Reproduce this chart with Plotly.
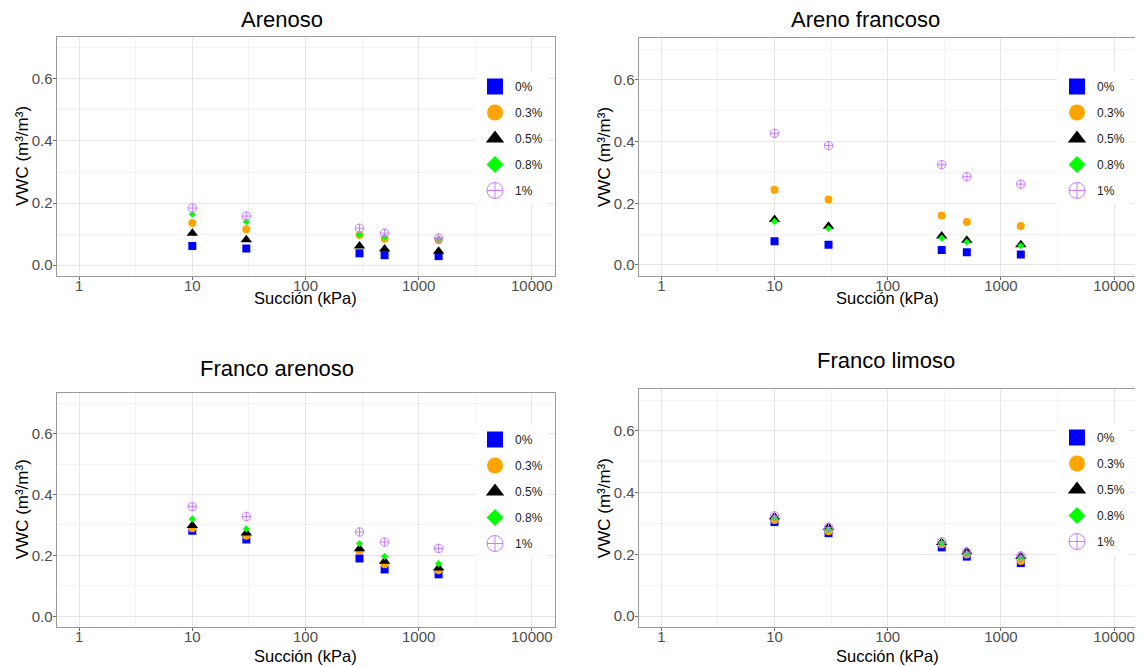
import plotly.graph_objects as go

# ---------------- data ----------------
suction = [10, 30, 300, 500, 1500]
levels = ["0%", "0.3%", "0.5%", "0.8%", "1%"]
titles = ["Arenoso", "Areno francoso", "Franco arenoso", "Franco limoso"]

# rows follow levels order: 0%, 0.3%, 0.5%, 0.8%, 1%
arenoso = [
    [0.062, 0.054, 0.038, 0.032, 0.029],
    [0.136, 0.116, 0.097, 0.085, 0.080],
    [0.103, 0.082, 0.062, 0.052, 0.045],
    [0.164, 0.140, 0.099, 0.090, 0.084],
    [0.184, 0.158, 0.119, 0.103, 0.087],
]
areno_francoso = [
    [0.077, 0.065, 0.048, 0.041, 0.034],
    [0.244, 0.212, 0.160, 0.139, 0.126],
    [0.147, 0.125, 0.094, 0.080, 0.065],
    [0.141, 0.118, 0.087, 0.074, 0.062],
    [0.427, 0.387, 0.325, 0.286, 0.262],
]
franco_arenoso = [
    [0.281, 0.252, 0.190, 0.154, 0.138],
    [0.289, 0.265, 0.216, 0.171, 0.151],
    [0.298, 0.274, 0.222, 0.181, 0.159],
    [0.320, 0.287, 0.239, 0.197, 0.173],
    [0.360, 0.328, 0.277, 0.244, 0.223],
]
franco_limoso = [
    [0.305, 0.269, 0.223, 0.193, 0.172],
    [0.312, 0.275, 0.233, 0.200, 0.179],
    [0.322, 0.288, 0.239, 0.209, 0.193],
    [0.318, 0.281, 0.236, 0.202, 0.188],
    [0.325, 0.288, 0.241, 0.208, 0.195],
]
panels = [arenoso, areno_francoso, franco_arenoso, franco_limoso]

x_tickvals = [1, 10, 100, 1000, 10000]
x_ticktext = ["1", "10", "100", "1000", "10000"]
y_tickvals = [0, 0.2, 0.4, 0.6]
y_ticktext = ["0.0", "0.2", "0.4", "0.6"]

# ---------------- style ----------------
OFF = 8  # page body margin
W, H = 1143 - OFF, 666 - OFF
FONT = "Liberation Sans, Arial, sans-serif"
symbols = ["square", "circle", "triangle-up", "diamond", "circle-cross-open"]
colors = ["#0000FF", "#FFA500", "#000000", "#00FF00", "#C77CFF"]
sizes = [8, 8, 10, 5.5, 8.5]
leg_sizes = [20, 20, 20, 13, 20]

def px_x(p):
    return (p - OFF) / W

def px_y(p):
    return 1 - (p - OFF) / H

xdom = [[56.5, 554.5], [638.7, 1136.7], [56.5, 554.5], [638.7, 1136.7]]
ydom = [[276, 37], [275.7, 38.3], [627, 392.5], [627, 389.3]]
title_pos = [(281.7, 19), (865, 19), (277, 368), (885.5, 360)]
xtitle_y = [298, 298, 656, 656]
ytitle_x = [22.5, 604, 22.5, 604]
legend_pos = [(475, 72), (1057, 72), (475, 425), (1057, 423)]

fig = go.Figure()

for p, data in enumerate(panels):
    ax = "" if p == 0 else str(p + 1)
    lg = "legend" if p == 0 else "legend" + str(p + 1)
    for i, lev in enumerate(levels):
        line = dict(width=1, color=colors[i]) if "open" in symbols[i] else dict(width=0)
        fig.add_trace(go.Scatter(
            x=suction, y=data[i], mode="markers", name=lev,
            xaxis="x" + ax, yaxis="y" + ax, showlegend=False,
            marker=dict(symbol=symbols[i], color=colors[i], size=sizes[i], line=line),
        ))
    # legend entries with large keys
    for i, lev in enumerate(levels):
        line = dict(width=1, color=colors[i]) if "open" in symbols[i] else dict(width=0)
        fig.add_trace(go.Scatter(
            x=[None], y=[None], mode="markers", name=lev,
            xaxis="x" + ax, yaxis="y" + ax, legend=lg, legendgroup=f"g{p}_{i}",
            showlegend=True,
            marker=dict(symbol=symbols[i], color=colors[i], size=leg_sizes[i], line=line),
        ))

layout = dict(
    width=W, height=H, margin=dict(l=0, r=0, t=0, b=0),
    paper_bgcolor="white", plot_bgcolor="white",
    font=dict(family=FONT, color="#000000"),
    annotations=[],
)

for p in range(4):
    ax = "" if p == 0 else str(p + 1)
    layout["xaxis" + ax] = dict(
        type="log", range=[-0.2, 4.2], domain=[px_x(xdom[p][0]), px_x(xdom[p][1])],
        anchor="y" + ax, tickvals=x_tickvals, ticktext=x_ticktext,
        showgrid=True, gridcolor="#E6E6E6", gridwidth=1,
        minor=dict(tickvals=[10 ** 0.5, 10 ** 1.5, 10 ** 2.5, 10 ** 3.5],
                   showgrid=True, gridcolor="#F3F3F3", gridwidth=1, ticks=""),
        showline=True, linecolor="#9A9A9A", linewidth=1, mirror=True,
        ticks="outside", ticklen=3, tickcolor="#6E6E6E", ticklabelstandoff=-7,
        tickfont=dict(size=15, color="#4D4D4D", family=FONT),
        zeroline=False, fixedrange=True,
    )
    layout["yaxis" + ax] = dict(
        range=[-0.035, 0.735], domain=[px_y(ydom[p][0]), px_y(ydom[p][1])],
        anchor="x" + ax, tickvals=y_tickvals, ticktext=y_ticktext,
        showgrid=True, gridcolor="#E6E6E6", gridwidth=1,
        minor=dict(tickvals=[0.1, 0.3, 0.5, 0.7], showgrid=True,
                   gridcolor="#F3F3F3", gridwidth=1, ticks=""),
        showline=True, linecolor="#9A9A9A", linewidth=1, mirror=True,
        ticks="outside", ticklen=3, tickcolor="#6E6E6E", ticklabelstandoff=-3,
        tickfont=dict(size=15, color="#4D4D4D", family=FONT),
        zeroline=False, fixedrange=True,
    )
    lg = "legend" if p == 0 else "legend" + str(p + 1)
    layout[lg] = dict(
        x=px_x(legend_pos[p][0]), y=px_y(legend_pos[p][1]),
        xanchor="left", yanchor="top", bgcolor="white", borderwidth=0,
        font=dict(size=12, color="#1A1A1A", family=FONT),
        tracegroupgap=7, itemclick=False, itemdoubleclick=False,
    )
    # panel title
    layout["annotations"].append(dict(
        text=titles[p], x=px_x(title_pos[p][0]), y=px_y(title_pos[p][1]),
        xref="paper", yref="paper", xanchor="center", yanchor="middle",
        showarrow=False, font=dict(size=22, color="#000000", family=FONT),
    ))
    # x-axis title
    xc = (xdom[p][0] + xdom[p][1]) / 2
    layout["annotations"].append(dict(
        text="Succión (kPa)", x=px_x(xc), y=px_y(xtitle_y[p]),
        xref="paper", yref="paper", xanchor="center", yanchor="middle",
        showarrow=False, font=dict(size=16.5, color="#000000", family=FONT),
    ))
    # y-axis title
    yc = (ydom[p][0] + ydom[p][1]) / 2
    layout["annotations"].append(dict(
        text="VWC (m³/m³)", x=px_x(ytitle_x[p]), y=px_y(yc),
        xref="paper", yref="paper", xanchor="center", yanchor="middle",
        textangle=-90, showarrow=False,
        font=dict(size=17, color="#000000", family=FONT),
    ))

fig.update_layout(**layout)
fig.write_html("out.html", config={"displayModeBar": False})
